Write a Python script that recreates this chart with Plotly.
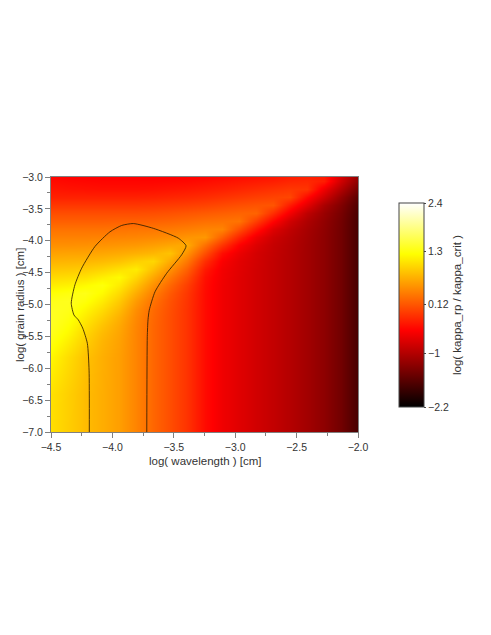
import plotly.graph_objects as go

wavelength = [-4.5, -4.361, -4.222, -4.083, -3.944, -3.806, -3.667, -3.528, -3.389, -3.25,
              -3.111, -2.972, -2.833, -2.694, -2.556, -2.417, -2.278, -2.139, -2.0]
radius = [-7.0, -6.4, -5.82, -5.57, -5.445, -5.32, -5.195, -5.07, -4.945, -4.82, -4.695, -4.57, -4.445,
          -4.32, -4.195, -4.07, -3.945, -3.82, -3.695, -3.57, -3.445, -3.32, -3.195, -3.07, -3.0]
# one list per wavelength, listed from the smallest grain radius to the largest
k00 = [1.03, 1.05, 1.20, 1.32, 1.37, 1.40, 1.41, 1.40, 1.36, 1.27, 1.13, 1.00, 0.87, 0.74, 0.62, 0.50, 0.40, 0.30, 0.17, 0.05, -0.10, -0.25, -0.33, -0.40, -0.43]
k01 = [0.92, 0.93, 1.02, 1.14, 1.21, 1.27, 1.32, 1.36, 1.38, 1.31, 1.16, 1.02, 0.88, 0.75, 0.63, 0.50, 0.40, 0.30, 0.17, 0.05, -0.10, -0.25, -0.35, -0.42, -0.46]
k02 = [0.80, 0.80, 0.84, 0.93, 0.98, 1.05, 1.12, 1.20, 1.29, 1.35, 1.22, 1.05, 0.90, 0.76, 0.63, 0.51, 0.40, 0.30, 0.17, 0.05, -0.10, -0.25, -0.36, -0.43, -0.47]
k03 = [0.70, 0.70, 0.71, 0.75, 0.79, 0.85, 0.93, 1.02, 1.12, 1.22, 1.30, 1.14, 0.96, 0.79, 0.65, 0.52, 0.41, 0.30, 0.17, 0.05, -0.10, -0.25, -0.37, -0.44, -0.47]
k04 = [0.60, 0.60, 0.60, 0.62, 0.64, 0.67, 0.72, 0.80, 0.89, 1.00, 1.12, 1.22, 1.04, 0.84, 0.68, 0.54, 0.42, 0.31, 0.18, 0.05, -0.10, -0.25, -0.37, -0.44, -0.47]
k05 = [0.42, 0.42, 0.42, 0.42, 0.42, 0.43, 0.45, 0.49, 0.57, 0.69, 0.83, 0.98, 1.12, 0.93, 0.72, 0.56, 0.43, 0.32, 0.18, 0.05, -0.10, -0.25, -0.37, -0.44, -0.47]
k06 = [0.22, 0.22, 0.22, 0.22, 0.22, 0.22, 0.23, 0.25, 0.30, 0.39, 0.51, 0.66, 0.83, 0.98, 0.76, 0.60, 0.45, 0.33, 0.19, 0.06, -0.09, -0.24, -0.36, -0.44, -0.47]
k07 = [0.05, 0.05, 0.05, 0.05, 0.05, 0.05, 0.05, 0.06, 0.08, 0.13, 0.22, 0.35, 0.51, 0.68, 0.84, 0.65, 0.48, 0.35, 0.21, 0.08, -0.07, -0.22, -0.34, -0.43, -0.47]
k08 = [-0.13, -0.13, -0.13, -0.13, -0.13, -0.13, -0.13, -0.13, -0.12, -0.10, -0.05, 0.05, 0.18, 0.34, 0.52, 0.68, 0.53, 0.38, 0.24, 0.11, -0.05, -0.20, -0.32, -0.42, -0.46]
k09 = [-0.40, -0.40, -0.40, -0.40, -0.40, -0.40, -0.40, -0.40, -0.40, -0.40, -0.39, -0.37, -0.30, -0.16, 0.06, 0.28, 0.55, 0.42, 0.28, 0.14, -0.02, -0.17, -0.29, -0.39, -0.45]
k10 = [-0.57, -0.57, -0.57, -0.57, -0.57, -0.57, -0.57, -0.57, -0.57, -0.57, -0.57, -0.56, -0.55, -0.50, -0.38, -0.12, 0.17, 0.42, 0.30, 0.17, 0.02, -0.13, -0.26, -0.36, -0.42]
k11 = [-0.68, -0.68, -0.68, -0.68, -0.68, -0.68, -0.68, -0.68, -0.68, -0.68, -0.68, -0.68, -0.67, -0.66, -0.60, -0.48, -0.23, 0.06, 0.31, 0.20, 0.06, -0.09, -0.22, -0.33, -0.39]
k12 = [-0.78, -0.78, -0.78, -0.78, -0.78, -0.78, -0.78, -0.78, -0.78, -0.78, -0.78, -0.78, -0.78, -0.77, -0.76, -0.70, -0.58, -0.33, -0.05, 0.20, 0.09, -0.05, -0.18, -0.30, -0.36]
k13 = [-0.88, -0.88, -0.88, -0.88, -0.88, -0.88, -0.88, -0.88, -0.88, -0.88, -0.88, -0.88, -0.88, -0.88, -0.87, -0.86, -0.81, -0.69, -0.44, -0.16, 0.10, -0.02, -0.14, -0.27, -0.33]
k14 = [-0.98, -0.98, -0.98, -0.98, -0.98, -0.98, -0.98, -0.98, -0.98, -0.98, -0.98, -0.98, -0.98, -0.98, -0.98, -0.97, -0.95, -0.90, -0.79, -0.55, -0.30, 0.00, -0.10, -0.22, -0.28]
k15 = [-1.10, -1.10, -1.10, -1.10, -1.10, -1.10, -1.10, -1.10, -1.10, -1.10, -1.10, -1.10, -1.10, -1.10, -1.10, -1.10, -1.09, -1.07, -1.02, -0.91, -0.66, -0.42, -0.12, -0.20, -0.26]
k16 = [-1.24, -1.24, -1.24, -1.24, -1.24, -1.24, -1.24, -1.24, -1.24, -1.24, -1.24, -1.24, -1.24, -1.24, -1.24, -1.24, -1.24, -1.23, -1.21, -1.16, -1.05, -0.80, -0.58, -0.28, -0.30]
k17 = [-1.43, -1.43, -1.43, -1.43, -1.43, -1.43, -1.43, -1.43, -1.43, -1.43, -1.43, -1.43, -1.43, -1.43, -1.43, -1.43, -1.43, -1.43, -1.42, -1.39, -1.33, -1.20, -1.00, -0.80, -0.75]
k18 = [-1.72, -1.72, -1.72, -1.72, -1.72, -1.72, -1.72, -1.72, -1.72, -1.72, -1.72, -1.72, -1.72, -1.72, -1.72, -1.72, -1.72, -1.72, -1.72, -1.70, -1.66, -1.58, -1.42, -1.25, -1.20]
columns = [k00, k01, k02, k03, k04, k05, k06, k07, k08, k09, k10, k11, k12, k13, k14, k15, k16, k17, k18]
kappa = [list(row) for row in zip(*columns)]

contour_x = [-4.188, -4.19, -4.204, -4.242, -4.278, -4.313, -4.335, -4.305, -4.25, -4.142, -4.02, -3.924, -3.83,
             -3.667, -3.463, -3.40, -3.436, -3.558, -3.653, -3.70, -3.71, -3.716, -3.72]
contour_y = [-7.0, -6.03, -5.61, -5.37, -5.24, -5.165, -4.98, -4.69, -4.43, -4.09, -3.86, -3.76, -3.73,
             -3.805, -3.96, -4.08, -4.22, -4.51, -4.80, -5.09, -5.24, -5.505, -7.0]
cbar_ticks = [2.4, 1.3, 0.12, -1, -2.2]
cbar_labels = ["2.4", "1.3", "0.12", "\u22121", "\u22122.2"]

PAGE = 8  # the browser's default body margin
W, H = 491 - 2 * PAGE, 635 - 2 * PAGE
TXT = "#333333"
LINE = "#808080"
FONT = "Liberation Sans"


def fx(px):
    return (px - PAGE) / W


def fy(py):
    return 1 - (py - PAGE) / H


fig = go.Figure()
fig.add_trace(go.Heatmap(
    x=wavelength, y=radius, z=kappa, zmin=-2.2, zmax=2.4, zsmooth="best",
    colorscale=[[0, "#000000"], [0.376, "#ff0000"], [0.75, "#ffff00"], [1, "#ffffff"]],
    hoverinfo="skip",
    colorbar=dict(
        x=fx(399), xanchor="left", xref="container", y=fy(305), yanchor="middle", yref="container",
        len=204 / H, lenmode="fraction", thickness=25, thicknessmode="pixels", xpad=0, ypad=0,
        outlinecolor="#444444", outlinewidth=1, tickmode="array",
        tickvals=cbar_ticks, ticktext=cbar_labels, ticks="outside", ticklen=2, tickcolor="#444444",
        tickfont=dict(family=FONT, size=10.5, color=TXT),
        title=dict(text="log( kappa_rp / kappa_crit )", side="right", font=dict(family=FONT, size=11.5, color=TXT)),
    ),
))
fig.add_trace(go.Scatter(x=contour_x, y=contour_y, mode="lines", hoverinfo="skip", showlegend=False,
                         line=dict(color="rgba(50,30,0,0.85)", width=1, shape="spline", smoothing=0.6)))

axis = dict(showgrid=False, zeroline=False, showline=True, linecolor=LINE, linewidth=1, mirror=True,
            ticks="outside", ticklen=5, tickcolor=LINE, dtick=0.5, tickformat=".1f", automargin=False,
            tickfont=dict(family=FONT, size=10.5, color=TXT),
            minor=dict(dtick=0.25, ticks="outside", ticklen=3, tickcolor=LINE))
fig.update_layout(
    width=W, height=H, autosize=False, paper_bgcolor="white", plot_bgcolor="white",
    margin=dict(l=0, r=0, t=0, b=0, autoexpand=False), showlegend=False,
    xaxis=dict(axis, domain=[fx(51), fx(358)], range=[-4.5, -2.0], tick0=-4.5),
    yaxis=dict(axis, domain=[fy(432), fy(177)], range=[-7, -3], tick0=-7),
    annotations=[
        dict(text="log( wavelength ) [cm]", xref="paper", yref="paper", x=fx(205), y=fy(461), showarrow=False,
             xanchor="center", yanchor="middle", font=dict(family=FONT, size=11.5, color=TXT)),
        dict(text="log( grain radius ) [cm]", xref="paper", yref="paper", x=fx(20), y=fy(305), showarrow=False,
             textangle=-90, xanchor="center", yanchor="middle", font=dict(family=FONT, size=11.5, color=TXT)),
    ],
)
fig.write_html("out.html")
